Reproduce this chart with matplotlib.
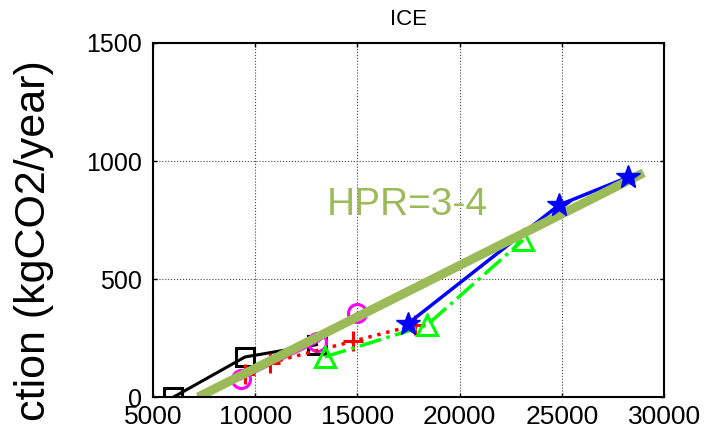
import matplotlib
matplotlib.use('Agg')
import matplotlib.pyplot as plt
import numpy as np

plt.rcParams['font.family'] = ['Liberation Sans', 'DejaVu Sans']

# series
sq_x = [6000, 9500, 13000]
sq_y = [0, 170, 222]
circ_x = [9300, 13000, 15000]
circ_y = [78, 233, 355]
plus_x = [9500, 10700, 14800, 17800]
plus_y = [100, 145, 237, 305]
star_x = [17450, 24850, 28250]
star_y = [310, 813, 932]
tri_x = [13400, 18400, 23100]
tri_y = [170, 305, 665]
fit_x = [7200, 29000]
fit_y = [0, 950]

x_ticks = [5000, 10000, 15000, 20000, 25000, 30000]
y_ticks = [0, 500, 1000, 1500]

fig = plt.figure(figsize=(7.05, 4.34), dpi=100)
ax = fig.add_axes([0.217, 0.085, 0.725, 0.816])

ax.plot(sq_x, sq_y, '-', color='black', lw=2.2, marker='s', ms=13,
        mfc='none', mec='black', mew=2.2)
ax.plot(circ_x, circ_y, '-', color='magenta', lw=2.2, marker='o', ms=13,
        mfc='none', mec='magenta', mew=2.2)
ax.plot(plus_x, plus_y, ':', color='red', lw=2.5, marker='+', ms=14, mew=2.2)
ax.plot(tri_x, tri_y, '-.', color='#00ff00', lw=2.5, marker='^', ms=14,
        mfc='none', mec='#00ff00', mew=2.2)
ax.plot(star_x, star_y, '-', color='blue', lw=2.5)
ax.plot(fit_x, fit_y, '-', color='#9bbb59', lw=6.5, solid_capstyle='butt')
ax.plot(star_x, star_y, linestyle='none', marker='*', ms=18, color='blue')

ax.text(13500, 771, 'HPR=3-4', color='#9bbb59', fontsize=28, va='baseline')

ax.set_xlim(5000, 30000)
ax.set_ylim(0, 1500)
ax.set_xticks(x_ticks)
ax.set_yticks(y_ticks)
ax.tick_params(axis='both', direction='in', length=3, width=1,
               top=True, right=True, colors='black')
ax.tick_params(axis='y', labelsize=18, pad=8)
ax.tick_params(axis='x', labelsize=19, pad=6)
ax.grid(True, linestyle=':', color='#444444', linewidth=0.8)
for s in ax.spines.values():
    s.set_linewidth(1.5)

ax.set_title('ICE', fontsize=16, pad=13)
fig.text(0.048, 0.445, 'ction (kgCO2/year)', rotation=90, fontsize=31,
         ha='center', va='center')

plt.savefig('out.png', dpi=100)
